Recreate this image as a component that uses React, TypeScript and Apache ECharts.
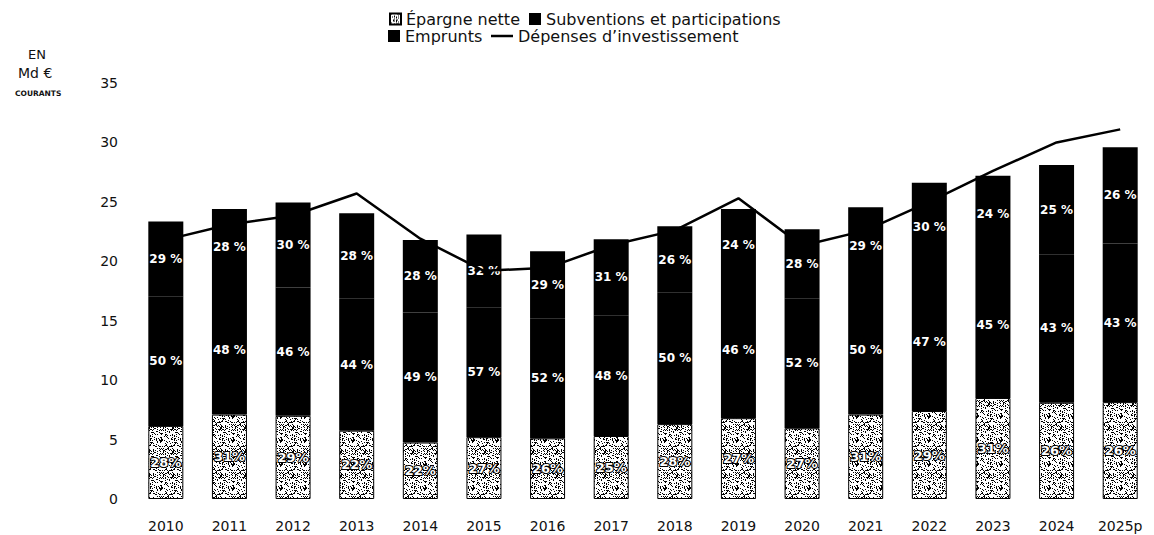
import React, { useEffect, useRef } from "react";
import * as echarts from "echarts";

const years = ["2010", "2011", "2012", "2013", "2014", "2015", "2016", "2017", "2018", "2019", "2020", "2021", "2022", "2023", "2024", "2025p"];
// Md € courants
const epargne = [6.15, 7.1, 7.0, 5.75, 4.75, 5.2, 5.1, 5.3, 6.3, 6.8, 5.95, 7.1, 7.4, 8.5, 8.1, 8.15];
const subventions = [10.9, 10.9, 10.8, 11.1, 10.95, 10.9, 10.1, 10.15, 11.05, 11.55, 10.95, 10.9, 11.7, 12.2, 12.5, 13.35];
const emprunts = [6.3, 6.4, 7.15, 7.2, 6.1, 6.15, 5.65, 6.4, 5.6, 6.05, 5.8, 6.55, 7.5, 6.5, 7.5, 8.1];
const depenses = [21.8, 23.1, 23.85, 25.7, 21.9, 19.2, 19.45, 21.35, 22.6, 25.3, 21.3, 22.6, 25.0, 27.6, 30.0, 31.1];
// shares of investment spending shown as labels
const epargnePct = [28, 31, 29, 22, 22, 27, 26, 25, 28, 27, 27, 31, 29, 31, 26, 26];
const subventionsPct = [50, 48, 46, 44, 49, 57, 52, 48, 50, 46, 52, 50, 47, 45, 43, 43];
const empruntsPct = [29, 28, 30, 28, 28, 32, 29, 31, 26, 24, 28, 29, 30, 24, 25, 26];
const yTicks = [0, 5, 10, 15, 20, 25, 30, 35];

const FONT = "DejaVu Sans";

function makeSpeckle(): HTMLCanvasElement {
  const c = document.createElement("canvas");
  c.width = 24;
  c.height = 24;
  const ctx = c.getContext("2d")!;
  ctx.fillStyle = "#ffffff";
  ctx.fillRect(0, 0, 24, 24);
  ctx.fillStyle = "#000000";
  for (let y = 0; y < 24; y++) {
    for (let x = 0; x < 24; x++) {
      let h = (Math.imul(x + 1, 73856093) ^ Math.imul(y + 7, 19349663)) >>> 0;
      h = Math.imul(h ^ (h >>> 13), 2654435761) >>> 0;
      if (h % 100 < 28) ctx.fillRect(x, y, 1, 1);
    }
  }
  return c;
}

export default function App() {
  const ref = useRef<HTMLDivElement>(null);
  useEffect(() => {
    if (!ref.current) return;
    const chart = echarts.init(ref.current, null, { renderer: "svg" });
    const speckle = makeSpeckle();
    const legendText = { fontFamily: FONT, fontSize: 16, color: "#111" };
    chart.setOption({
      animation: false,
      backgroundColor: "#fff",
      textStyle: { fontFamily: FONT },
      legend: [
        { left: 384, top: 6, itemWidth: 11, itemHeight: 11, selectedMode: false, textStyle: legendText, data: [{ name: "Épargne nette", icon: "rect" }] },
        { left: 524, top: 6, itemWidth: 12, itemHeight: 12, selectedMode: false, textStyle: legendText, data: [{ name: "Subventions et participations", icon: "rect" }] },
        { left: 383, top: 23, itemWidth: 12, itemHeight: 12, selectedMode: false, textStyle: legendText, data: [{ name: "Emprunts", icon: "rect" }] },
        { left: 486, top: 23, itemWidth: 22, itemHeight: 2.5, selectedMode: false, textStyle: legendText, data: [{ name: "Dépenses d’investissement", icon: "rect" }] },
      ],
      grid: { left: 134, right: 2, top: 83, bottom: 36, containLabel: false },
      xAxis: {
        type: "category",
        data: years,
        axisLine: { show: false },
        axisTick: { show: false },
        axisLabel: { margin: 20, fontSize: 14, color: "#111", fontFamily: FONT },
      },
      yAxis: {
        type: "value",
        min: yTicks[0],
        max: yTicks[yTicks.length - 1],
        interval: 5,
        splitLine: { show: false },
        axisLine: { show: false },
        axisTick: { show: false },
        axisLabel: { margin: 16, fontSize: 14, color: "#111", fontFamily: FONT },
      },
      graphic: [
        { type: "text", left: 28, top: 48, style: { text: "EN", fontFamily: FONT, fontSize: 13, fill: "#111" } },
        { type: "text", left: 18, top: 66, style: { text: "Md €", fontFamily: FONT, fontSize: 14, fill: "#111" } },
        { type: "text", left: 15, top: 89, style: { text: "COURANTS", fontFamily: FONT, fontSize: 7.5, fontWeight: "bold", fill: "#111" } },
      ],
      series: [
        {
          name: "Épargne nette",
          type: "bar",
          stack: "fin",
          barWidth: 35,
          data: epargne,
          itemStyle: { color: { image: speckle, repeat: "repeat" }, borderColor: "#000", borderWidth: 1 },
          label: {
            show: true,
            position: "inside",
            formatter: (p: any) => epargnePct[p.dataIndex] + "%",
            color: "#fff",
            fontFamily: FONT,
            fontWeight: "bold",
            fontSize: 13,
            textBorderColor: "#000",
            textBorderWidth: 2,
          },
        },
        {
          name: "Subventions et participations",
          type: "bar",
          stack: "fin",
          barWidth: 35,
          data: subventions,
          itemStyle: { color: "#000" },
          label: {
            show: true,
            position: "inside",
            formatter: (p: any) => subventionsPct[p.dataIndex] + " %",
            color: "#fff",
            fontFamily: FONT,
            fontWeight: "bold",
            fontSize: 12,
          },
        },
        {
          name: "Emprunts",
          type: "bar",
          stack: "fin",
          barWidth: 35,
          data: emprunts,
          itemStyle: { color: "#000" },
          label: {
            show: true,
            position: "inside",
            formatter: (p: any) => empruntsPct[p.dataIndex] + " %",
            color: "#fff",
            fontFamily: FONT,
            fontWeight: "bold",
            fontSize: 12,
          },
        },
        {
          name: "Dépenses d’investissement",
          type: "line",
          data: depenses,
          symbol: "none",
          z: 5,
          lineStyle: { color: "#000", width: 2.5 },
          itemStyle: { color: "#000" },
        },
      ],
    });
    return () => chart.dispose();
  }, []);
  return (
    <div
      ref={ref}
      style={{ position: "fixed", left: 0, top: 0, width: 1154, height: 535, background: "#fff" }}
    />
  );
}
